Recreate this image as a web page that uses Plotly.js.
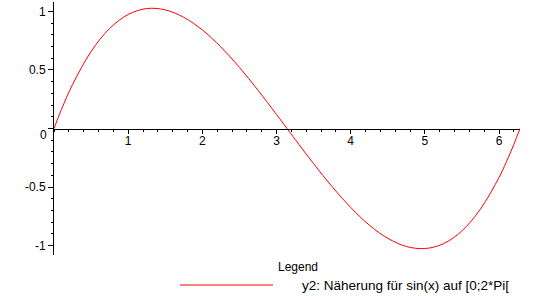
<!DOCTYPE html>
<html>
<head>
<meta charset="utf-8">
<script src="https://cdn.plot.ly/plotly-3.0.1.min.js"></script>
<style>html,body{margin:0;padding:0;background:#fff;}#chart{width:549px;height:296px;}</style>
</head>
<body>
<div id="chart"></div>
<script>
// Curve values
var xValues = [0, 0.1, 0.25, 0.5, 0.75, 1.0, 1.25, 1.5, 1.75, 2.0, 2.25, 2.5, 2.75, 3.0, 3.1416,
               3.25, 3.5, 3.75, 4.0, 4.25, 4.5, 4.75, 5.0, 5.25, 5.5, 5.75, 6.0, 6.1, 6.2, 6.2832];
var yValues = [0, 0.162, 0.375, 0.657, 0.854, 0.973, 1.024, 1.013, 0.949, 0.841, 0.696, 0.522, 0.327, 0.120, 0,
               -0.092, -0.300, -0.497, -0.674, -0.824, -0.937, -1.007, -1.025, -0.984, -0.874, -0.688, -0.418, -0.284, -0.136, 0];
var seriesName = 'y2: Näherung für sin(x) auf [0;2*Pi[';
var legendTitle = 'Legend';
var xTickVals = [1, 2, 3, 4, 5, 6];
var xTickText = ['1', '2', '3', '4', '5', '6'];
var yTickVals = [-1, -0.5, 0, 0.5, 1];
var yTickText = ['-1', '-0.5', '', '0.5', '1'];
var originLabel = '0';

var W = 549, H = 296;
var M = {l: 54, r: 29, t: 2, b: 41};
var pw = W - M.l - M.r, ph = H - M.t - M.b;
function px2x(px) { return (px - M.l) / pw; }
function px2y(py) { return (M.t + ph - py) / ph; }

var font = {family: 'Liberation Sans, Arial, sans-serif', size: 12, color: '#000'};
var seriesFont = {family: 'Liberation Sans, Arial, sans-serif', size: 13.5, color: '#000'};

var trace = {
  x: xValues, y: yValues, type: 'scatter', mode: 'lines',
  line: {color: '#ff0000', width: 1, shape: 'spline', smoothing: 1},
  showlegend: false, hoverinfo: 'skip'
};

var layout = {
  width: W, height: H,
  margin: M,
  paper_bgcolor: '#fff', plot_bgcolor: '#fff',
  font: font,
  showlegend: false,
  xaxis: {
    range: [0, 6.2832], anchor: 'free', position: 0.5,
    showgrid: false, zeroline: false,
    showline: true, linecolor: '#000', linewidth: 1,
    tickmode: 'array', tickvals: xTickVals, ticktext: xTickText,
    ticks: 'outside', ticklen: 4, tickcolor: '#000', tickwidth: 1,
    ticklabelstandoff: -3,
    tickfont: font,
    minor: {tickmode: 'linear', tick0: 0, dtick: 0.2, ticks: 'outside', ticklen: 2, tickcolor: '#000', showgrid: false}
  },
  yaxis: {
    range: [-1.08, 1.08],
    showgrid: false, zeroline: false,
    showline: true, linecolor: '#000', linewidth: 1,
    tickmode: 'array', tickvals: yTickVals, ticktext: yTickText,
    ticks: 'outside', ticklen: 5, tickcolor: '#000', tickwidth: 1,
    tickfont: font,
    minor: {tickmode: 'linear', tick0: 0, dtick: 0.1, ticks: 'outside', ticklen: 2, tickcolor: '#000', showgrid: false}
  },
  shapes: [{
    type: 'line', xref: 'paper', yref: 'paper',
    x0: px2x(180), x1: px2x(273), y0: px2y(285), y1: px2y(285),
    line: {color: '#ff0000', width: 1}
  }],
  annotations: [
    {text: originLabel, xref: 'x', yref: 'y', x: 0, y: 0, xanchor: 'right', yanchor: 'middle',
     xshift: -5, yshift: -6, showarrow: false, font: font},
    {text: legendTitle, xref: 'paper', yref: 'paper', x: px2x(276), y: px2y(267),
     xanchor: 'left', yanchor: 'middle', showarrow: false, font: font},
    {text: seriesName, xref: 'paper', yref: 'paper', x: px2x(300), y: px2y(285),
     xanchor: 'left', yanchor: 'middle', showarrow: false, font: seriesFont}
  ]
};

Plotly.newPlot('chart', [trace], layout, {staticPlot: true, displayModeBar: false});
</script>
</body>
</html>
